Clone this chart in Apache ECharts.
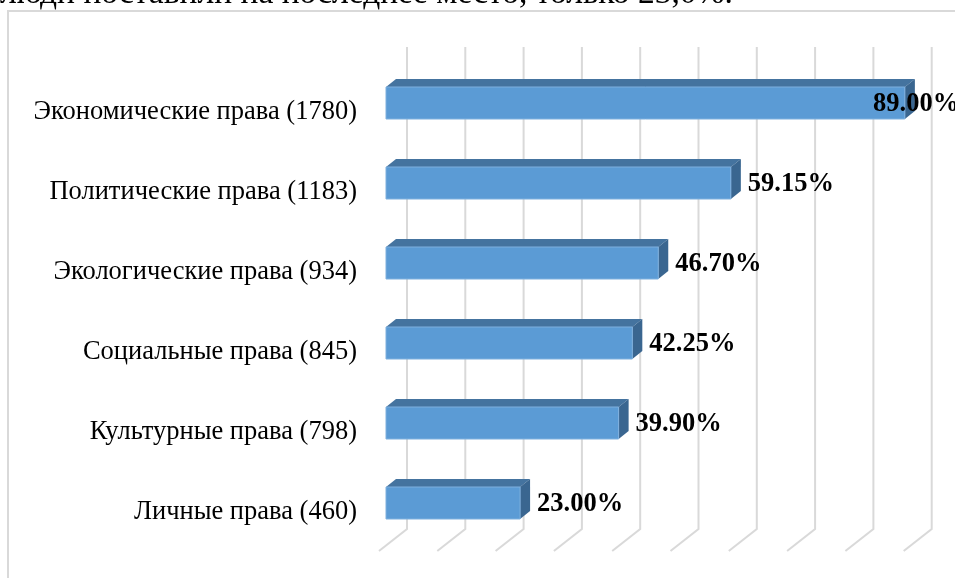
<!DOCTYPE html>
<html>
<head>
<meta charset="utf-8">
<script src="https://cdn.jsdelivr.net/npm/echarts@6/dist/echarts.min.js"></script>
<style>
  html, body { margin: 0; padding: 0; background: #fff; }
  #chart { width: 955px; height: 578px; }
</style>
</head>
<body>
<div id="chart"></div>
<script>
// данные диаграммы
const categories = [
    'Экономические права (1780)',
    'Политические права (1183)',
    'Экологические права (934)',
    'Социальные права (845)',
    'Культурные права (798)',
    'Личные права (460)'
];
const percentValues = [89.00, 59.15, 46.70, 42.25, 39.90, 23.00];
const gridTicks = [0, 10, 20, 30, 40, 50, 60, 70, 80, 90, 100];
const topText = 'люди поставили на последнее место, только 23,0%.';

const chart = echarts.init(document.getElementById('chart'));

// объёмный столбец: передняя грань, верх, бок
function renderBar(params, api) {
    const v = api.value(0);
    const start = api.coord([0, api.value(1)]);
    const end = api.coord([v, api.value(1)]);
    const cy = start[1] - 9;
    const h = 32, dx = 10, dy = 8;
    const x0 = start[0], x1 = end[0], y0 = cy - h / 2;
    // если подпись не влезает справа - сдвигаем её на столбец (как в Excel)
    const labelX = Math.min(x1 + 17, api.getWidth() - 82);
    return {
        type: 'group',
        children: [
            { type: 'polygon', shape: { points: [[x0, y0], [x0 + dx, y0 - dy], [x1 + dx, y0 - dy], [x1, y0]] },
              style: { fill: '#44739f' } },
            { type: 'polygon', shape: { points: [[x1, y0], [x1 + dx, y0 - dy], [x1 + dx, y0 + h - dy], [x1, y0 + h]] },
              style: { fill: '#3a6690' } },
            { type: 'rect', shape: { x: x0, y: y0, width: x1 - x0, height: h },
              style: { fill: '#5b9bd5', stroke: '#7fb0de', lineWidth: 1 } },
            { type: 'text', style: { x: labelX, y: cy + 1, text: v.toFixed(2) + '%',
              font: 'bold 26.5px "Liberation Serif"', fill: '#000', verticalAlign: 'middle' } }
        ]
    };
}

// линии сетки с "полом" в перспективе
function renderGridLine(params, api) {
    const x = api.coord([api.value(0), 0])[0] + 21;
    const cs = params.coordSys;
    const yBottom = cs.y + cs.height - 23;
    return {
        type: 'polyline',
        shape: { points: [[x, 47], [x, yBottom], [x - 28, cs.y + cs.height - 1]] },
        style: { stroke: '#d9d9d9', lineWidth: 2, fill: null }
    };
}

chart.setOption({
    animation: false,
    graphic: [
        { type: 'rect', shape: { x: 8, y: 11, width: 1000, height: 600 },
          style: { fill: '#fff', stroke: '#d9d9d9', lineWidth: 2 }, z: -10 },
        { type: 'text', style: { x: 0, y: 11, text: topText, font: '33.5px "Liberation Serif"',
          fill: '#000', verticalAlign: 'bottom' } }
    ],
    grid: { left: 386, top: 72, height: 480, right: -14, outerBoundsMode: 'none' },
    xAxis: { type: 'value', min: 0, max: 100, interval: 10, show: false },
    yAxis: {
        type: 'category',
        data: categories,
        inverse: true,
        axisLine: { show: false },
        axisTick: { show: false },
        splitLine: { show: false },
        axisLabel: { margin: 29, fontFamily: 'Liberation Serif', fontSize: 26.5, color: '#000' }
    },
    series: [
        {
            type: 'custom',
            renderItem: renderGridLine,
            data: gridTicks.map(v => [v, 0]),
            encode: { x: 0, y: 1 },
            silent: true,
            z: 1
        },
        {
            type: 'custom',
            renderItem: renderBar,
            data: percentValues.map((v, i) => [v, i]),
            encode: { x: 0, y: 1 },
            z: 2
        }
    ]
});
</script>
</body>
</html>
